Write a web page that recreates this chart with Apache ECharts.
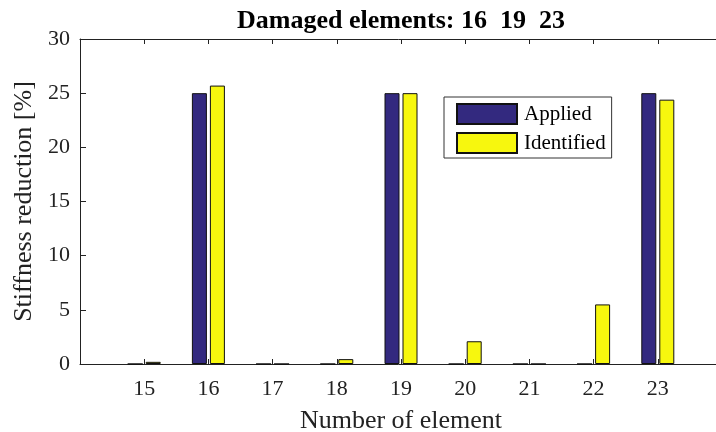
<!DOCTYPE html>
<html>
<head>
<meta charset="utf-8">
<script src="https://cdn.jsdelivr.net/npm/echarts@6/dist/echarts.min.js"></script>
<style>
  html, body { margin: 0; padding: 0; background: #fff; }
  #chart { width: 716px; height: 432px; }
</style>
</head>
<body>
<div id="chart"></div>
<script>
const elements = [15, 16, 17, 18, 19, 20, 21, 22, 23]
const applied = [0, 25, 0, 0, 25, 0, 0, 0, 25]
const identified = [0.2, 25.7, 0, 0.45, 25, 2.1, 0, 5.5, 24.4]
const yTicks = [0, 5, 10, 15, 20, 25, 30]

const serif = 'Liberation Serif'
const toPairs = vals => elements.map((e, i) => [e, vals[i]])

const chart = echarts.init(document.getElementById('chart'))

chart.setOption({
  animation: false,
  title: {
    text: 'Damaged elements: 16  19  23',
    left: 396,
    top: 3,
    textAlign: 'center',
    textStyle: { fontFamily: serif, fontWeight: 'bold', fontSize: 26, color: '#000' },
  },
  grid: { left: 80, top: 39, right: -6, bottom: 68, outerBoundsMode: 'none' },
  legend: {
    orient: 'vertical',
    left: 444,
    top: 97,
    padding: [6, 6, 4, 12],
    itemWidth: 60,
    itemHeight: 20,
    itemGap: 7,
    icon: 'rect',
    borderColor: '#333',
    borderWidth: 1,
    backgroundColor: '#fff',
    textStyle: { fontFamily: serif, fontSize: 21, color: '#000', padding: [0, 0, 0, 2] },
    data: ['Applied', 'Identified'],
  },
  xAxis: [
    {
      type: 'value',
      min: 14,
      max: 24,
      interval: 1,
      name: 'Number of element',
      nameLocation: 'middle',
      nameGap: 44,
      nameTextStyle: { fontFamily: serif, fontSize: 26, color: '#222' },
      axisLine: { onZero: false, lineStyle: { color: '#222', width: 1 } },
      axisTick: { inside: true, length: 5, lineStyle: { color: '#222' } },
      axisLabel: {
        margin: 14,
        fontFamily: serif,
        fontSize: 22,
        color: '#222',
        formatter: v => (elements.includes(v) ? String(v) : ''),
      },
      splitLine: { show: false },
    },
    {
      type: 'value',
      position: 'top',
      min: 14,
      max: 24,
      interval: 1,
      axisLine: { onZero: false, lineStyle: { color: '#222', width: 1 } },
      axisTick: { inside: true, length: 5, lineStyle: { color: '#222' } },
      axisLabel: { show: false },
      splitLine: { show: false },
    },
  ],
  yAxis: {
    type: 'value',
    min: yTicks[0],
    max: yTicks[yTicks.length - 1],
    interval: 5,
    name: 'Stiffness reduction [%]',
    nameLocation: 'middle',
    nameGap: 42,
    nameTextStyle: { fontFamily: serif, fontSize: 26, color: '#222' },
    axisLine: { show: true, lineStyle: { color: '#222', width: 1 } },
    axisTick: { inside: true, length: 6, lineStyle: { color: '#222' } },
    axisLabel: { margin: 10, fontFamily: serif, fontSize: 22, color: '#222' },
    splitLine: { show: false },
  },
  series: [
    {
      name: 'Applied',
      type: 'bar',
      xAxisIndex: 0,
      barWidth: 15,
      barGap: '20%',
      itemStyle: { color: '#33297f', borderColor: '#111', borderWidth: 1 },
      data: toPairs(applied),
    },
    {
      name: 'Identified',
      type: 'bar',
      xAxisIndex: 0,
      barWidth: 15,
      barGap: '20%',
      itemStyle: { color: '#f7f70e', borderColor: '#111', borderWidth: 1 },
      data: toPairs(identified),
    },
  ],
})
</script>
</body>
</html>
